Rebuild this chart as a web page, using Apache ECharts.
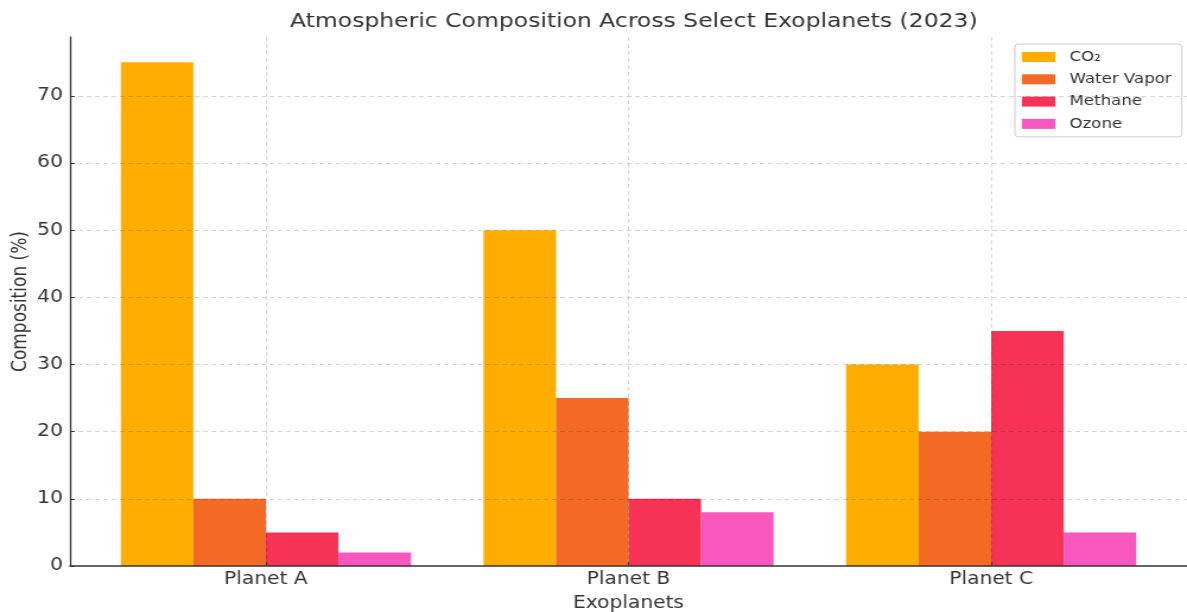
<!DOCTYPE html>
<html>
<head>
<meta charset="utf-8">
<script src="https://cdn.jsdelivr.net/npm/echarts@6/dist/echarts.min.js"></script>
<style>
html,body{margin:0;padding:0;background:#fff;overflow:hidden}
#c{width:1000px;height:612px;transform:scaleX(1.187);transform-origin:0 0}
</style>
</head>
<body>
<div id="c"></div>
<script>
const categories = ['Planet A', 'Planet B', 'Planet C'];
const co2 = [75, 50, 30];
const waterVapor = [10, 25, 20];
const methane = [5, 10, 35];
const ozone = [2, 8, 5];
const yTicks = [0, 10, 20, 30, 40, 50, 60, 70];
const xTicks = [0, 1, 2];

const seriesDefs = [
  { name: 'CO₂', data: co2, color: '#FFAE00' },
  { name: 'Water Vapor', data: waterVapor, color: '#F26A24' },
  { name: 'Methane', data: methane, color: '#F63256' },
  { name: 'Ozone', data: ozone, color: '#F957C0' }
];

const Y_MAX = 78.75;
const X_MIN = -0.54, X_MAX = 2.54;
const gridLineStyle = { color: 'rgba(0,0,0,0.17)', type: [4, 3], width: 1 };
const markLineData = yTicks.slice(1).map(v => ({ yAxis: v }))
  .concat(xTicks.map(v => ({ xAxis: v })));

// layout (base coordinates; the page is stretched horizontally by CSS)
const G = { left: 59, right: 0, top: 37, bottom: 46, width: 1000 };
const plotW = G.width - G.left - G.right;
const pxPerUnit = plotW / (X_MAX - X_MIN);
const barGrid = {
  left: G.left + (-0.5 - X_MIN) * pxPerUnit,
  right: G.right + (X_MAX - 2.5) * pxPerUnit,
  top: G.top, bottom: G.bottom
};

const series = seriesDefs.map(s => ({
  name: s.name,
  type: 'bar',
  xAxisIndex: 1, yAxisIndex: 1,
  data: s.data,
  itemStyle: { color: s.color },
  barGap: '0%',
  barCategoryGap: '20%',
  emphasis: { disabled: true }
}));
series.push({
  name: 'grid',
  type: 'line',
  xAxisIndex: 0, yAxisIndex: 0,
  data: [],
  z: 10,
  markLine: {
    silent: true,
    symbol: 'none',
    label: { show: false },
    lineStyle: gridLineStyle,
    emphasis: { disabled: true },
    data: markLineData,
    animation: false
  }
});

const chart = echarts.init(document.getElementById('c'), null, { renderer: 'canvas' });
chart.setOption({
  animation: false,
  textStyle: { fontFamily: 'DejaVu Sans' },
  title: {
    text: 'Atmospheric Composition Across Select Exoplanets (2023)',
    left: 529, top: 7, textAlign: 'center',
    textStyle: { fontFamily: 'DejaVu Sans', fontSize: 19.8, fontWeight: 'normal', color: '#333' }
  },
  legend: {
    orient: 'vertical',
    left: 855, top: 44,
    padding: [6, 8.5, 6, 6],
    itemWidth: 28, itemHeight: 10, itemGap: 8.3,
    borderColor: '#cccccc', borderWidth: 1, borderRadius: 3,
    backgroundColor: '#fff',
    icon: 'rect',
    textStyle: { fontFamily: 'DejaVu Sans', fontSize: 14, color: '#333', padding: [0, 0, 0, 7] },
    data: seriesDefs.map(s => s.name)
  },
  grid: [
    { left: G.left, right: G.right, top: G.top, bottom: G.bottom, containLabel: false, outerBoundsMode: 'none' },
    { left: barGrid.left, right: barGrid.right, top: barGrid.top, bottom: barGrid.bottom, containLabel: false, outerBoundsMode: 'none' }
  ],
  xAxis: [{
    type: 'value', gridIndex: 0,
    min: X_MIN, max: X_MAX,
    name: 'Exoplanets', nameLocation: 'middle', nameGap: 29, nameMoveOverlap: false,
    nameTextStyle: { fontFamily: 'DejaVu Sans', fontSize: 17, color: '#333' },
    axisLine: { show: true, onZero: false, lineStyle: { color: '#333', width: 1.5 } },
    axisTick: { show: true, inside: true, length: 4, customValues: xTicks, lineStyle: { color: '#333' } },
    axisLabel: { customValues: xTicks, formatter: v => categories[Math.round(v)], fontSize: 17, color: '#333', margin: 5 },
    splitLine: { show: false },
    z: 5
  }, {
    type: 'category', gridIndex: 1,
    data: categories,
    show: false
  }],
  yAxis: [{
    type: 'value', gridIndex: 0,
    min: 0, max: Y_MAX,
    name: 'Composition (%)', nameLocation: 'middle', nameGap: 33, nameMoveOverlap: false,
    nameTextStyle: { fontFamily: 'DejaVu Sans', fontSize: 17, color: '#333' },
    axisLine: { show: true, onZero: false, lineStyle: { color: '#333', width: 1.3 } },
    axisTick: { show: true, inside: true, length: 4, customValues: yTicks, lineStyle: { color: '#333' } },
    axisLabel: { customValues: yTicks, fontSize: 17, color: '#333', margin: 6 },
    splitLine: { show: false },
    z: 5
  }, {
    type: 'value', gridIndex: 1,
    min: 0, max: Y_MAX,
    show: false
  }],
  series: series
});
</script>
</body>
</html>
